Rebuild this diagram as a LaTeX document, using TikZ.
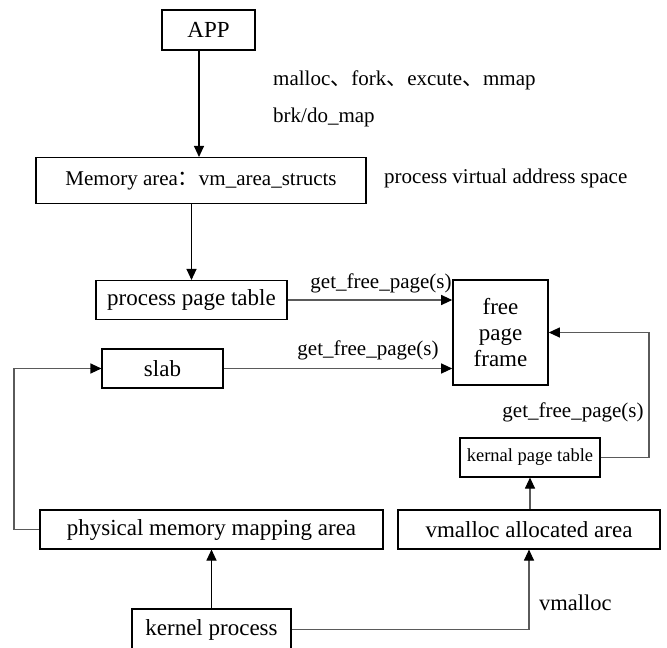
\documentclass[tikz,border=0pt]{standalone}
\usepackage{fontspec}
\setmainfont{Liberation Serif}
\newfontfamily\cjk{Noto Sans CJK SC}
\usetikzlibrary{arrows.meta}
\definecolor{linegray}{HTML}{5A5A5A}
\begin{document}
\begin{tikzpicture}[x=1pt,y=-1pt,
  box/.style={draw=black,line width=1.1pt,rectangle,inner sep=0pt,align=center,font=\fontsize{23}{26}\selectfont},
  conn/.style={draw=linegray,line width=1.1pt,-{Triangle[length=11pt,width=10pt,color=black]}},
  darkconn/.style={conn,draw=black},
  lbl/.style={inner sep=0pt,font=\fontsize{21}{24}\selectfont}]
\fill[white] (0,0) rectangle (667,648);
\useasboundingbox (0,0) rectangle (667,648);

% boxes
\node[box,minimum width=93pt,minimum height=40pt] (app) at (208.5,30) {APP};
\node[box,minimum width=330pt,minimum height=46pt,font=\fontsize{21}{24}\selectfont] (mem) at (201,180.5) {Memory area{\cjk ：}vm\_area\_structs};
\node[box,minimum width=191pt,minimum height=39pt] (ppt) at (191.5,300) {process page table};
\node[box,minimum width=121pt,minimum height=39pt] (slab) at (162.5,368.5) {slab};
\node[box,minimum width=95pt,minimum height=105pt,line width=1.6pt,font=\fontsize{23}{26}\selectfont] (fpf) at (500.5,332.5) {free\\page\\frame};
\node[box,minimum width=140pt,minimum height=39pt,font=\fontsize{18.5}{21}\selectfont] (kpt) at (530,457.5) {kernal page table};
\node[box,minimum width=343pt,minimum height=39pt] (phys) at (211.5,529.5) {physical memory mapping area};
\node[box,minimum width=262pt,minimum height=39pt] (vm) at (529,529.5) {vmalloc allocated area};
\node[box,minimum width=159pt,minimum height=41pt,line width=1.3pt] (kp) at (211.5,629.5) {kernel process};

% labels
\node[lbl,anchor=west] (l1) at (273,80) {malloc{\cjk 、}fork{\cjk 、}excute{\cjk 、}mmap};
\node[lbl,anchor=west] (l2) at (273,117) {brk/do\_map};
\node[lbl,anchor=west] (l3) at (384,178) {process virtual address space};
\node[lbl] (g1) at (381,283) {get\_free\_page(s)};
\node[lbl] (g2) at (368,350) {get\_free\_page(s)};
\node[lbl] (g3) at (573,412) {get\_free\_page(s)};
\node[lbl,anchor=west,font=\fontsize{22.5}{25}\selectfont] (vl) at (539,603) {vmalloc};

% turning points
\coordinate (rc) at (649,395);
\coordinate (lc) at (14,450);

% connectors
\draw[darkconn] ([xshift=-9.5pt]app.south) -- ([xshift=-9.5pt]app.south |- mem.north);
\draw[darkconn] (ppt.north |- mem.south) -- (ppt.north);
\draw[conn] (ppt.east) -- (ppt.east -| fpf.west);
\draw[conn] (slab.east) -- (slab.east -| fpf.west);
\draw[conn] (kpt.east) -| (rc) |- (fpf.east);
\draw[conn] (vm.north -| kpt.south) -- (kpt.south);
\draw[conn] (phys.west) -| (lc) |- (slab.west);
\draw[darkconn] (kp.north) -- (phys.south);
\draw[conn] (kp.east) -| (vm.south);
\end{tikzpicture}
\end{document}
